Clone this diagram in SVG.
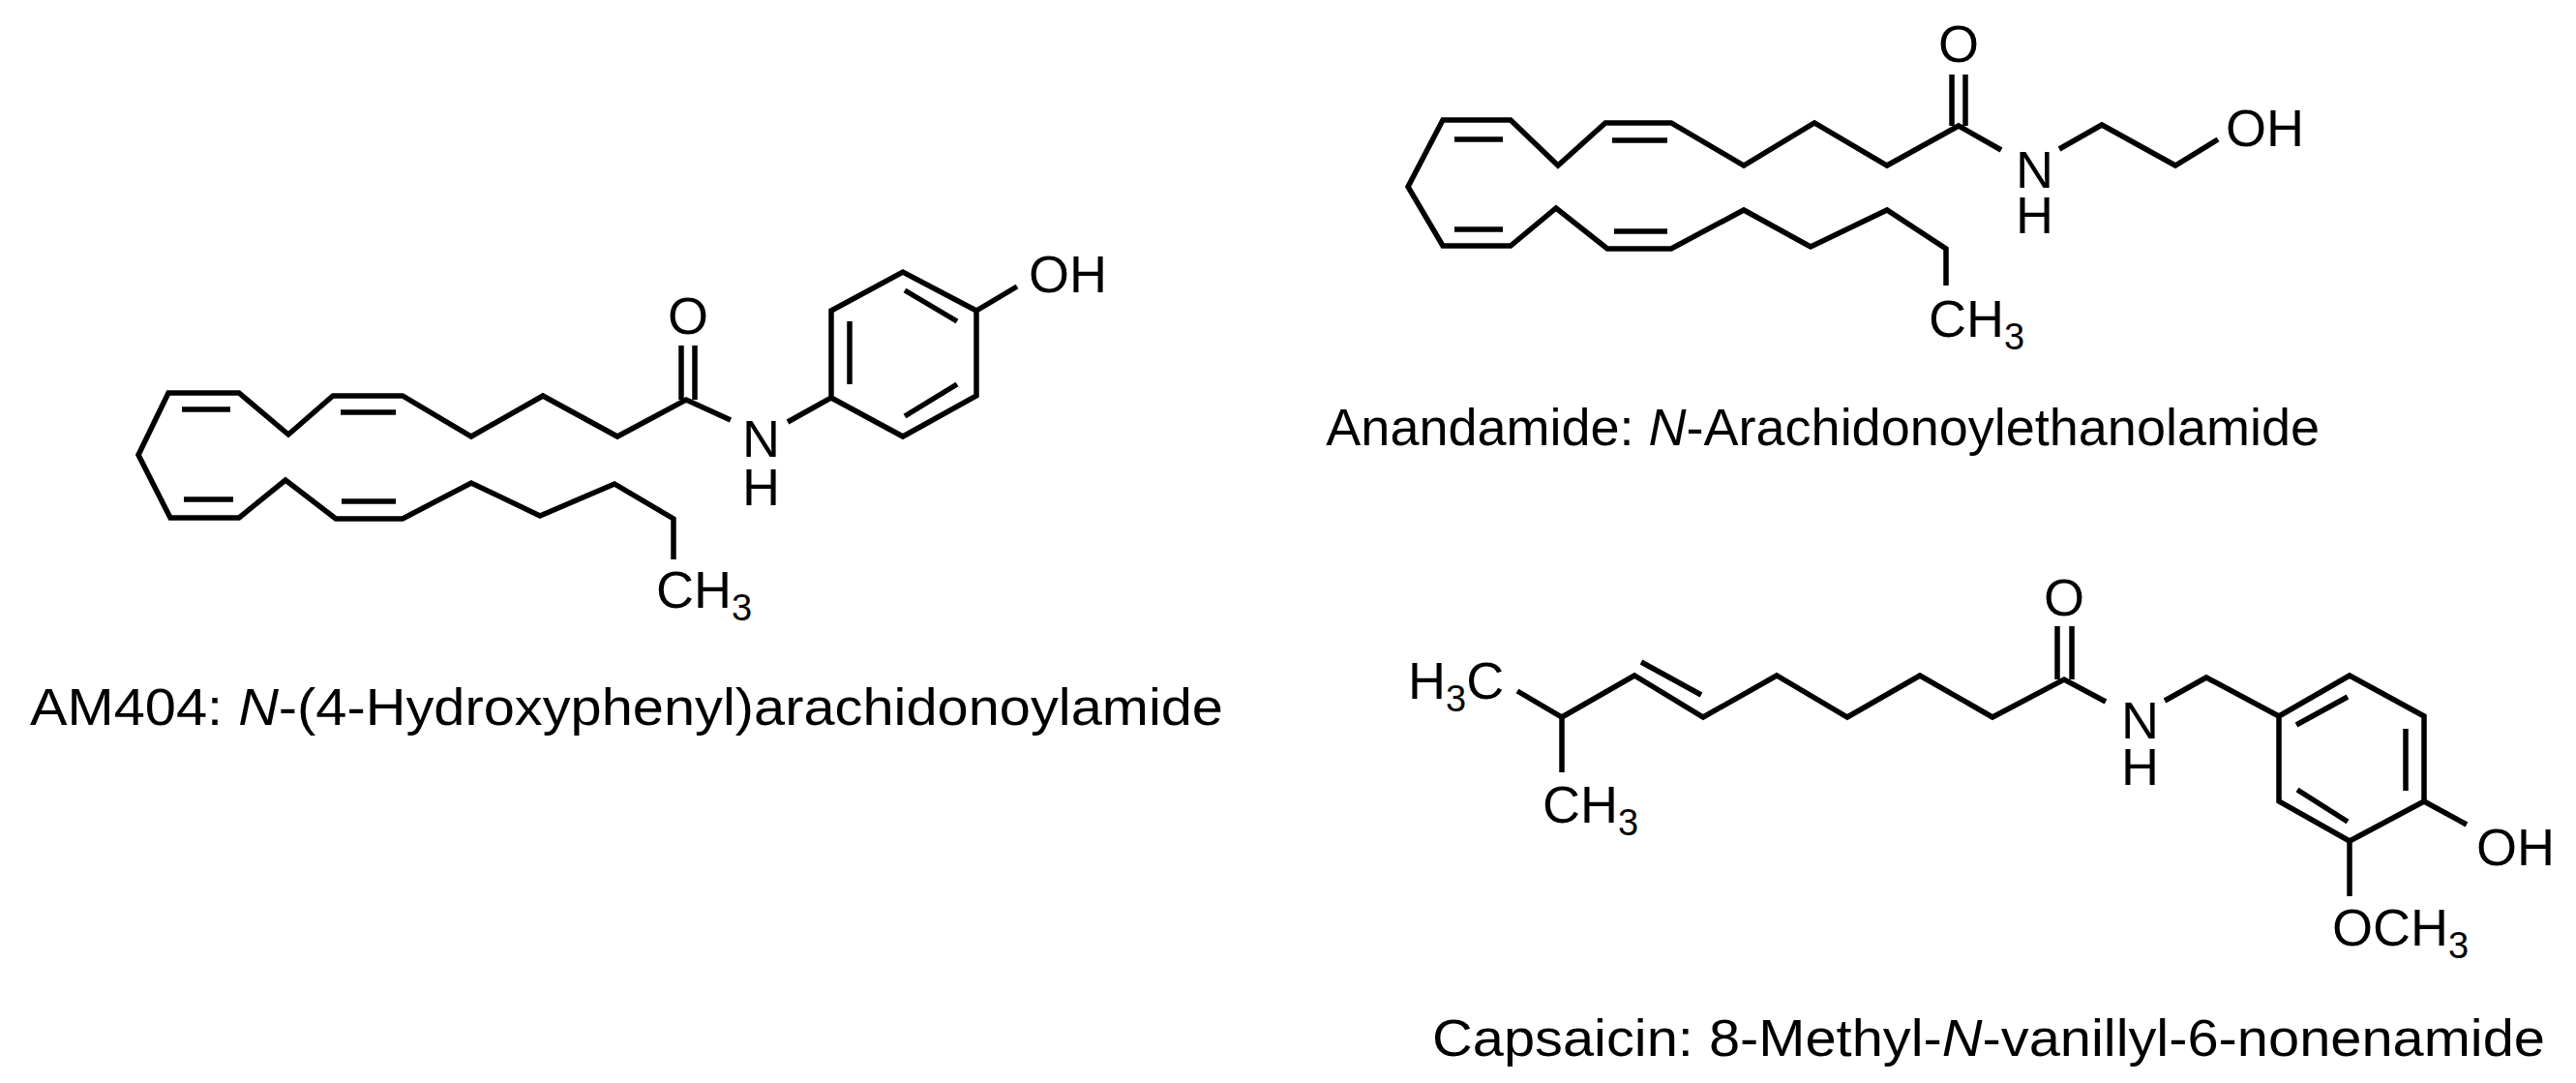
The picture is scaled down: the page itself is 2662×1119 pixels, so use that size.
<svg xmlns="http://www.w3.org/2000/svg" width="2662" height="1119" viewBox="0 0 2662 1119">
<style>
.b{fill:none;stroke:#000;stroke-width:5.5;stroke-linejoin:miter;stroke-linecap:butt}
.t{font-family:"Liberation Sans",Arial,sans-serif;font-size:54px;fill:#000}
.s{font-size:38px}
.c{font-family:"Liberation Sans",Arial,sans-serif;font-size:54px;fill:#000}
</style>
<rect width="2662" height="1119" fill="#fff"/>
<g id="am404">
<polyline class="b" points="755,434 709,413 638,451 561,409 487,451 416,409 344,409 298,449 247,406 174,406 143,470 176,535 247,535 295,496 347,536 416,536 487,499 558,533 635,500 696,536 696,578"/>
<line class="b" x1="188" y1="423" x2="238" y2="423"/><line class="b" x1="352" y1="426" x2="409" y2="426"/>
<line class="b" x1="190" y1="516" x2="241" y2="516"/><line class="b" x1="353" y1="518" x2="409" y2="518"/>
<line class="b" x1="704" y1="413" x2="704" y2="357"/><line class="b" x1="718" y1="413" x2="718" y2="357"/>
<polyline class="b" points="814,436 859,411 859,321 933,281 1009,321 1009,409 933,451 859,411"/>
<line class="b" x1="878" y1="332" x2="878" y2="397"/><line class="b" x1="935" y1="300" x2="989" y2="332"/><line class="b" x1="935" y1="430" x2="989" y2="397"/>
<line class="b" x1="1009" y1="321" x2="1051" y2="296"/>
<text class="t" x="711" y="345" text-anchor="middle">O</text>
<text class="t" x="767" y="472">N</text><text class="t" x="767" y="522">H</text>
<text class="t" x="1063" y="302">OH</text>
<text class="t" x="678" y="628">CH<tspan class="s" dy="13">3</tspan></text>
<text class="c" x="31" y="749" textLength="1233" lengthAdjust="spacingAndGlyphs">AM404: <tspan font-style="italic">N</tspan>-(4-Hydroxyphenyl)arachidonoylamide</text>
</g>
<g id="anandamide">
<polyline class="b" points="2068,155 2024,130 1950,171 1875,127 1802,171 1727,127 1659,127 1610,171 1561,124 1491,124 1455,193 1491,254 1561,254 1608,215 1661,257 1727,257 1802,217 1871,255 1950,217 2011,257 2011,295"/>
<line class="b" x1="1503" y1="144" x2="1553" y2="144"/><line class="b" x1="1666" y1="145" x2="1723" y2="145"/>
<line class="b" x1="1503" y1="237" x2="1553" y2="237"/><line class="b" x1="1668" y1="239" x2="1723" y2="239"/>
<line class="b" x1="2017" y1="130" x2="2017" y2="77"/><line class="b" x1="2031" y1="130" x2="2031" y2="77"/>
<polyline class="b" points="2128,154 2172,129 2248,171 2292,144"/>
<text class="t" x="2024" y="64" text-anchor="middle">O</text>
<text class="t" x="2083" y="194">N</text><text class="t" x="2083" y="241">H</text>
<text class="t" x="2300" y="151">OH</text>
<text class="t" x="1993" y="348">CH<tspan class="s" dy="13">3</tspan></text>
<text class="c" x="2397" y="460" text-anchor="end">Anandamide: <tspan font-style="italic">N</tspan>-Arachidonoylethanolamide</text>
</g>
<g id="capsaicin">
<polyline class="b" points="1568,714 1614,741 1689,698 1760,741 1836,698 1909,741 1984,698 2059,741 2133,702 2176,725"/>
<line class="b" x1="1614" y1="741" x2="1614" y2="798"/>
<line class="b" x1="1696" y1="684" x2="1758" y2="718"/>
<line class="b" x1="2126" y1="702" x2="2126" y2="647"/><line class="b" x1="2141" y1="702" x2="2141" y2="647"/>
<polyline class="b" points="2237,724 2280,700 2355,740 2428,698 2505,740 2505,828 2428,869 2355,828 2355,740"/>
<line class="b" x1="2373" y1="749" x2="2426" y2="720"/><line class="b" x1="2486" y1="753" x2="2486" y2="817"/><line class="b" x1="2374" y1="816" x2="2426" y2="849"/>
<line class="b" x1="2505" y1="828" x2="2549" y2="852"/>
<line class="b" x1="2428" y1="869" x2="2428" y2="926"/>
<text class="t" x="1455" y="722">H<tspan class="s" dy="13">3</tspan><tspan dy="-13">C</tspan></text>
<text class="t" x="1594" y="850">CH<tspan class="s" dy="13">3</tspan></text>
<text class="t" x="2133" y="636" text-anchor="middle">O</text>
<text class="t" x="2192" y="763">N</text><text class="t" x="2192" y="811">H</text>
<text class="t" x="2559" y="894">OH</text>
<text class="t" x="2410" y="977">OCH<tspan class="s" dy="13">3</tspan></text>
<text class="c" x="1480" y="1091" textLength="1150" lengthAdjust="spacingAndGlyphs">Capsaicin: 8-Methyl-<tspan font-style="italic">N</tspan>-vanillyl-6-nonenamide</text>
</g>
</svg>
